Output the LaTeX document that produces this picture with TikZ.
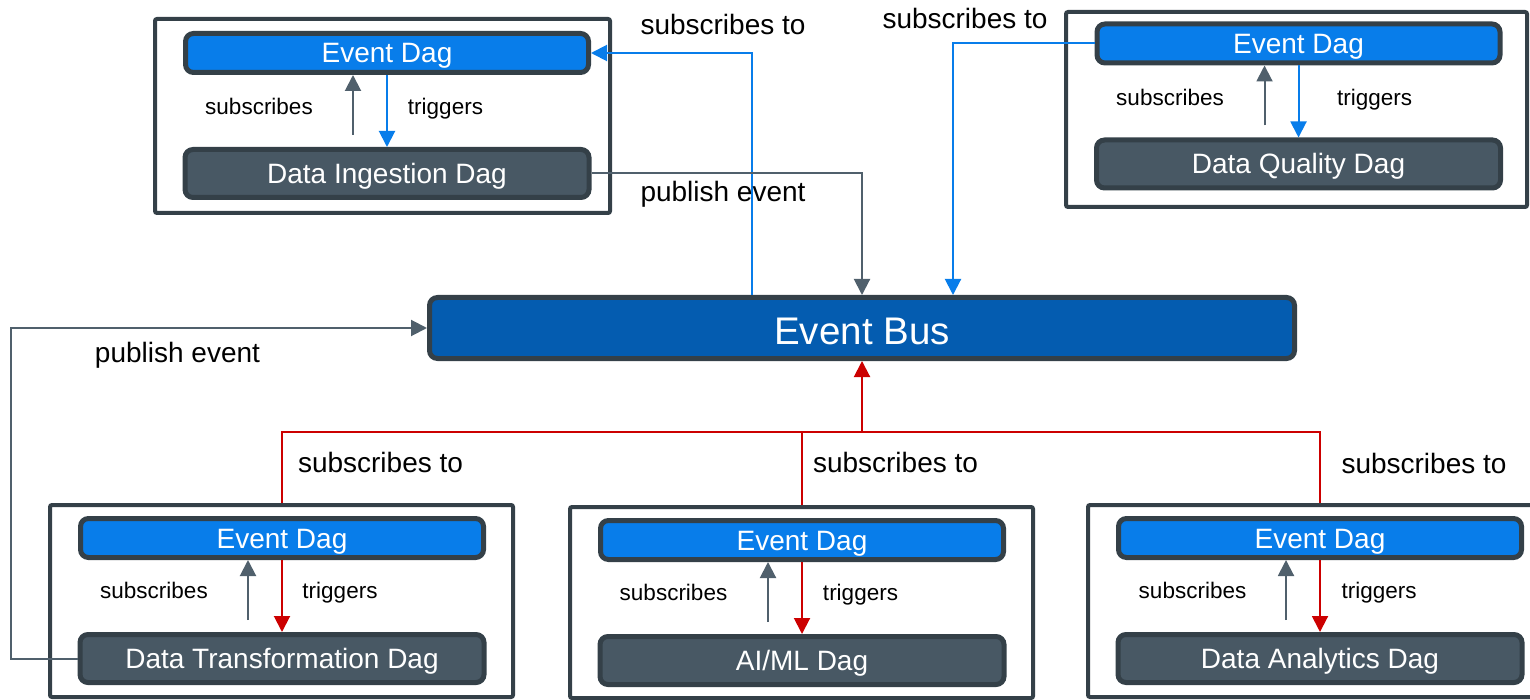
\documentclass[tikz,border=0pt]{standalone}
\usepackage{fontspec}
\setmainfont{Liberation Sans}
\usetikzlibrary{positioning,arrows.meta}

\definecolor{evblue}{RGB}{8,125,234}
\definecolor{busblue}{RGB}{4,92,176}
\definecolor{dagslate}{RGB}{72,88,100}
\definecolor{rimdark}{RGB}{52,64,72}
\definecolor{linkgray}{RGB}{80,96,108}
\definecolor{linkred}{RGB}{204,0,0}

\tikzset{
    evdag/.style={rectangle, rounded corners=8pt, draw=rimdark, line width=5pt, fill=evblue, text=white, inner sep=0pt,
        font=\fontsize{28}{30}\selectfont, text height=20pt, text depth=0pt, minimum width=403pt, minimum height=39pt},
    workdag/.style={evdag, fill=dagslate, minimum width=404pt, minimum height=48pt},
    busbox/.style={evdag, fill=busblue, font=\fontsize{38.5}{40}\selectfont, text height=33pt, minimum width=865pt, minimum height=61pt},
    dagbox/.style={rectangle, draw=rimdark, line width=4pt, rounded corners=2pt, inner sep=0pt},
    lbl/.style={font=\fontsize{28}{30}\selectfont, text height=21pt, text depth=7pt, inner sep=0pt},
    minilbl/.style={font=\fontsize{22.5}{24}\selectfont, text height=16.9pt, text depth=5.6pt, inner sep=0pt},
    arr/.style={-{Triangle[length=16pt,width=16pt]}},
    blueline/.style={draw=evblue, line width=2pt},
    grayline/.style={draw=linkgray, line width=2pt},
    redline/.style={draw=linkred, line width=2pt}
    }

\begin{document}
\begin{tikzpicture}[x=1pt, y=-1pt]
    \useasboundingbox (0,0) rectangle (1530,700);
    % Frames round the dag pairs
    \node (grpT1) [dagbox, minimum width=455pt, minimum height=194pt] at (382.5,116) {};
    \node (grpT2) [dagbox, minimum width=461pt, minimum height=195pt] at (1296.5,109.5) {};
    \node (grpB1) [dagbox, minimum width=463pt, minimum height=192pt] at (281.5,601) {};
    \node (grpB2) [dagbox, minimum width=463pt, minimum height=191pt] at (801.5,602.5) {};
    \node (grpB3) [dagbox, minimum width=464pt, minimum height=192pt] at (1320,601) {};

    % The bus
    \node (bus) [busbox] at (862,328) {Event Bus};

    % The dag pairs
    \node (ev1) [evdag] at (387,53) {Event Dag};
    \node (dag1) [workdag, below=72pt of ev1] {Data Ingestion Dag};
    \node (ev2) [evdag] at (1298.5,43.5) {Event Dag};
    \node (dag2) [workdag, below=72pt of ev2] {Data Quality Dag};
    \node (ev3) [evdag] at (282,538) {Event Dag};
    \node (dag3) [workdag, below=72pt of ev3] {Data Transformation Dag};
    \node (ev4) [evdag] at (802,540) {Event Dag};
    \node (dag4) [workdag, below=72pt of ev4] {AI/ML Dag};
    \node (ev5) [evdag] at (1320,538) {Event Dag};
    \node (dag5) [workdag, below=72pt of ev5] {Data Analytics Dag};

    % Inside each pair
    \draw[grayline, arr] ([xshift=-34pt, yshift=12pt]dag1.north) -- ([xshift=-34pt]ev1.south);
    \draw[blueline, arr] (ev1.south) -- (dag1.north);
    \draw[grayline, arr] ([xshift=-34pt, yshift=12pt]dag2.north) -- ([xshift=-34pt]ev2.south);
    \draw[blueline, arr] (ev2.south) -- (dag2.north);
    \draw[grayline, arr] ([xshift=-34pt, yshift=12pt]dag3.north) -- ([xshift=-34pt]ev3.south);
    \draw[redline, arr] (ev3.south) -- (dag3.north);
    \draw[grayline, arr] ([xshift=-34pt, yshift=12pt]dag4.north) -- ([xshift=-34pt]ev4.south);
    \draw[redline, arr] (ev4.south) -- (dag4.north);
    \draw[grayline, arr] ([xshift=-34pt, yshift=12pt]dag5.north) -- ([xshift=-34pt]ev5.south);
    \draw[redline, arr] (ev5.south) -- (dag5.north);

    \node (sub1) [minilbl] at (259,108.4) {subscribes};
    \node (trg1) [minilbl] at (445.5,108.4) {triggers};
    \node (sub2) [minilbl] at (1170,99.4) {subscribes};
    \node (trg2) [minilbl] at (1374.5,99.4) {triggers};
    \node (sub3) [minilbl] at (154,592.7) {subscribes};
    \node (trg3) [minilbl] at (340,592.7) {triggers};
    \node (sub4) [minilbl] at (673.5,595) {subscribes};
    \node (trg4) [minilbl] at (860.5,595) {triggers};
    \node (sub5) [minilbl] at (1192.5,592.7) {subscribes};
    \node (trg5) [minilbl] at (1379,592.7) {triggers};

    % Links to and from the bus
    \draw[blueline, arr] ([xshift=-110pt]bus.north) |- (ev1.east);
    \draw[grayline, arr] (dag1.east) -| (bus.north);
    \draw[blueline, arr] (ev2.west) -| ([xshift=91pt]bus.north);
    \draw[grayline, arr] (dag3.west) -- ++(-67,0) |- (bus.west);
    \coordinate (redjoin) at (862,432);
    \draw[redline] (grpB1.north) |- (redjoin) -| (grpB3.north);
    \draw[redline] (grpB2.north) -- (grpB2.north |- redjoin);
    \draw[redline, arr] (redjoin) -- (bus.south);

    \node (subT1) [lbl] at (723,28) {subscribes to};
    \node (pubT1) [lbl] at (723,195) {publish event};
    \node (subT2) [lbl] at (965,22) {subscribes to};
    \node (pubB1) [lbl] at (177.5,355) {publish event};
    \node (subB1) [lbl] at (380.5,465) {subscribes to};
    \node (subB2) [lbl] at (895.5,465) {subscribes to};
    \node (subB3) [lbl] at (1424,466) {subscribes to};
\end{tikzpicture}
\end{document}
